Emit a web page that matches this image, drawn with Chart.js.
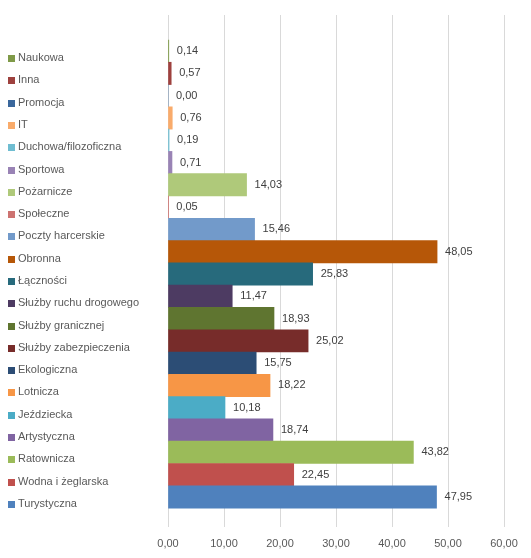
<!DOCTYPE html>
<html>
<head>
<meta charset="utf-8">
<script src="https://cdn.jsdelivr.net/npm/chart.js@4"></script>
<style>
  html, body { margin: 0; padding: 0; background: #fff; }
  #wrap { width: 531px; height: 558px; }
</style>
</head>
<body>
<div id="wrap"><canvas id="chart"></canvas></div>
<script>
// categories, top to bottom
const categories = [
    'Naukowa', 'Inna', 'Promocja', 'IT', 'Duchowa/filozoficzna', 'Sportowa',
    'Pożarnicze', 'Społeczne', 'Poczty harcerskie', 'Obronna', 'Łączności',
    'Służby ruchu drogowego', 'Służby granicznej', 'Służby zabezpieczenia',
    'Ekologiczna', 'Lotnicza', 'Jeździecka', 'Artystyczna', 'Ratownicza',
    'Wodna i żeglarska', 'Turystyczna'
];
const values = [
    0.14, 0.57, 0.00, 0.76, 0.19, 0.71,
    14.03, 0.05, 15.46, 48.05, 25.83,
    11.47, 18.93, 25.02,
    15.75, 18.22, 10.18, 18.74, 43.82,
    22.45, 47.95
];
const colors = [
    '#7F9A48', '#9E413E', '#3A679C', '#F9AB6B', '#6FBDD1', '#9983B5',
    '#AFC97A', '#CD7371', '#729ACA', '#B65708', '#276A7C',
    '#4D3B62', '#5F7530', '#772C2A',
    '#2C4D75', '#F79646', '#4BACC6', '#8064A2', '#9BBB59',
    '#C0504D', '#4F81BD'
];
const xTicks = [0, 10, 20, 30, 40, 50, 60];

const fmt = v => v.toFixed(2).replace('.', ',');
const FONT = { family: '"Liberation Sans", Arial, sans-serif', size: 11 };
const LABEL_SHIFT = 7;

// coloured squares in front of the category names (legend look)
const legendSquares = {
    id: 'legendSquares',
    afterDraw(chart) {
        const y = chart.scales.y;
        const ctx = chart.ctx;
        ctx.save();
        categories.forEach((c, i) => {
            const py = y.getPixelForTick(i) + LABEL_SHIFT;
            ctx.fillStyle = colors[i];
            ctx.fillRect(y.left - 10, Math.round(py - 3), 7, 7);
        });
        ctx.restore();
    }
};

// value labels at the end of each bar
const valueLabels = {
    id: 'valueLabels',
    afterDatasetsDraw(chart) {
        const ctx = chart.ctx;
        const meta = chart.getDatasetMeta(0);
        ctx.save();
        ctx.font = FONT.size + 'px ' + FONT.family;
        ctx.fillStyle = '#404040';
        ctx.textAlign = 'left';
        ctx.textBaseline = 'middle';
        meta.data.forEach((bar, i) => {
            ctx.fillText(fmt(values[i]), bar.x + 8, bar.y);
        });
        ctx.restore();
    }
};

new Chart(document.getElementById('chart'), {
    type: 'bar',
    data: {
        labels: categories,
        datasets: [{
            data: values,
            backgroundColor: colors,
            barPercentage: 1,
            categoryPercentage: 1
        }]
    },
    options: {
        indexAxis: 'y',
        responsive: true,
        maintainAspectRatio: false,
        animation: false,
        layout: { padding: { left: 18, right: 27, top: 15, bottom: 0 } },
        scales: {
            x: {
                min: 0,
                max: 60,
                afterBuildTicks: s => { s.ticks = xTicks.map(v => ({ value: v })); },
                afterFit: s => { s.height = 31; },
                grid: { color: '#D9D9D9', drawTicks: false },
                border: { display: false },
                ticks: {
                    padding: 10,
                    color: '#595959',
                    font: FONT,
                    callback: v => fmt(v)
                }
            },
            y: {
                // extra room above the first and below the last bar
                afterBuildTicks: s => { s._startValue = -1.62; s._valueRange = categories.length + 1.97; },
                afterFit: s => { s.width = 150; },
                grid: { display: false },
                border: { display: false },
                ticks: {
                    crossAlign: 'far',
                    labelOffset: LABEL_SHIFT,
                    color: '#595959',
                    font: FONT,
                    autoSkip: false
                }
            }
        },
        plugins: {
            legend: { display: false },
            tooltip: { enabled: false }
        }
    },
    plugins: [legendSquares, valueLabels]
});
</script>
</body>
</html>
